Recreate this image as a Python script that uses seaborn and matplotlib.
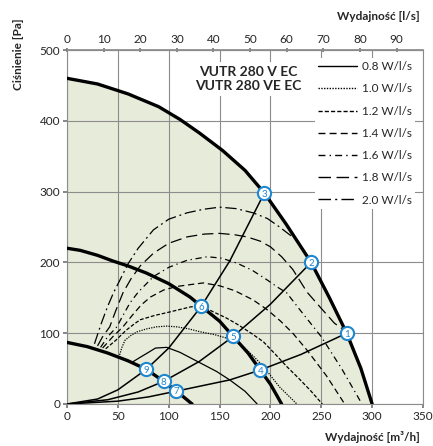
import numpy as np
import pandas as pd
import seaborn as sns
import matplotlib.pyplot as plt
from matplotlib.lines import Line2D

# fan curves (m3/h, Pa)
max_q = [0, 30, 60, 90, 111, 130, 153, 175, 194, 215, 240, 258, 275, 289, 300]
max_p = [460, 452, 438, 420, 402, 383, 358, 330, 298, 255, 200, 150, 100, 50, 0]
mid_q = [0, 13, 30, 45, 60, 78, 100, 121, 132, 150, 163, 178, 190, 200, 211]
mid_p = [220, 217, 210, 202, 195, 185, 170, 151, 138, 117, 96, 72, 48, 28, 0]
low_q = [0, 20, 40, 60, 78, 95, 107, 123]
low_p = [87, 81, 72, 61, 49, 32, 19, 0]

# system curves
sysA_q = [0, 30, 50, 78, 100, 132, 160, 194]
sysA_p = [0, 7, 20, 49, 79, 138, 202, 298]
sysB_q = [0, 40, 70, 95, 130, 163, 200, 240]
sysB_p = [0, 6, 17, 32, 60, 95, 141, 200]
sysC_q = [0, 50, 80, 107, 160, 190, 230, 275]
sysC_p = [0, 4, 10, 18, 34, 48, 70, 100]

# SFP curves
sfp_labels = ["0.8 W/l/s", "1.0 W/l/s", "1.2 W/l/s", "1.4 W/l/s",
              "1.6 W/l/s", "1.8 W/l/s", "2.0 W/l/s"]
sfp08_q = [64, 72, 79, 87, 98, 111, 131, 147, 160, 175, 187]
sfp08_p = [59, 66, 72, 79, 80, 73, 58, 46, 34, 18, 0]
sfp10_q = [51, 54, 57, 63, 69, 78, 88, 98, 108, 120, 131, 145, 157, 166, 173, 183, 193, 209, 226]
sfp10_p = [66, 80, 90, 97, 102, 106, 109, 110, 109, 106, 102, 98, 93, 88, 81, 68, 53, 24, 0]
sfp12_q = [38, 48, 58, 66, 72, 86, 101, 121, 132, 144, 156, 167, 180, 193, 205, 216, 228, 240, 251]
sfp12_p = [78, 90, 104, 113, 119, 125, 130, 137, 139, 130, 122, 113, 101, 88, 70, 53, 36, 18, 0]
sfp14_q = [35, 45, 55, 64, 73, 82, 95, 108, 118, 134, 150, 165, 183, 197, 210, 222, 236, 255, 273]
sfp14_p = [79, 95, 109, 125, 140, 151, 161, 166, 168, 171, 167, 160, 147, 133, 117, 100, 76, 40, 0]
sfp16_q = [33, 40, 49, 55, 62, 70, 85, 100, 118, 138, 152, 167, 182, 197, 207, 216, 229, 250, 270, 290]
sfp16_p = [80, 95, 109, 125, 143, 158, 180, 193, 203, 208, 206, 199, 189, 175, 165, 157, 133, 95, 50, 0]
sfp18_q = [30, 35, 42, 48, 55, 63, 72, 85, 100, 118, 135, 150, 165, 177, 190, 200, 211, 222, 236, 250, 263, 273]
sfp18_p = [82, 95, 109, 132, 157, 177, 195, 213, 227, 236, 240, 241, 239, 236, 230, 222, 208, 190, 158, 135, 114, 104]
sfp20_q = [27, 30, 34, 40, 46, 52, 60, 70, 85, 100, 118, 134, 150, 166, 183, 197, 209, 218, 226, 230]
sfp20_p = [85, 98, 115, 138, 158, 175, 198, 220, 246, 261, 270, 275, 278, 276, 270, 262, 250, 240, 232, 222]

# numbered working points
pt_labels = ["1", "2", "3", "4", "5", "6", "7", "8", "9"]
pt_q = [275, 240, 194, 190, 163, 132, 107, 95, 78]
pt_p = [100, 200, 298, 48, 96, 138, 19, 32, 49]

sns.set_theme(style="white")
plt.rcParams["font.family"] = ["Lato", "DejaVu Sans"]

fig = plt.figure(figsize=(4.33, 4.46), dpi=100)
ax = fig.add_axes([67 / 433, 42 / 446, 356 / 433, 354 / 446])

ax.fill_between(max_q, max_p, 0, color="#e7ebd9", zorder=0, lw=0)

for v in range(0, 351, 50):
    ax.axvline(v, color="#8c8c8c", lw=0.8, zorder=1)
for v in range(0, 501, 100):
    ax.axhline(v, color="#8c8c8c", lw=0.8, zorder=1)

styles = ["-", (0, (1, 1)), (0, (3, 1.5)), (0, (5, 3)),
          (0, (5, 3, 1, 3)), (0, (9, 4)), (0, (9, 3, 1.5, 3))]
sfp_q = [sfp08_q, sfp10_q, sfp12_q, sfp14_q, sfp16_q, sfp18_q, sfp20_q]
sfp_p = [sfp08_p, sfp10_p, sfp12_p, sfp14_p, sfp16_p, sfp18_p, sfp20_p]
for q, p, ls in zip(sfp_q, sfp_p, styles):
    sns.lineplot(x=q, y=p, ax=ax, color="black", lw=0.9, linestyle=ls,
                 sort=False, estimator=None, zorder=3)

for q, p in [(sysA_q, sysA_p), (sysB_q, sysB_p), (sysC_q, sysC_p)]:
    sns.lineplot(x=q, y=p, ax=ax, color="black", lw=1.1, sort=False,
                 estimator=None, zorder=3)

for q, p in [(max_q, max_p), (mid_q, mid_p), (low_q, low_p)]:
    sns.lineplot(x=q, y=p, ax=ax, color="black", lw=2.4, sort=False,
                 estimator=None, zorder=4)

ax.scatter(pt_q, pt_p, s=90, facecolor="white", edgecolor="#1f86d0",
           linewidth=1.5, zorder=5)
for lab, q, p in zip(pt_labels, pt_q, pt_p):
    ax.text(q, p, lab, color="#1f86d0", fontsize=7, ha="center",
            va="center_baseline", zorder=6)

ax.set_xlim(0, 350)
ax.set_ylim(0, 500)
ax.set_xticks(range(0, 351, 50))
ax.set_yticks(range(0, 501, 100))
ax.tick_params(labelsize=8.5, length=3, color="#777777", pad=2,
               direction="out", left=True, bottom=True)
for s in ax.spines.values():
    s.set_color("#8c8c8c")
    s.set_linewidth(0.8)

top = ax.secondary_xaxis("top", functions=(lambda x: x / 3.6, lambda x: x * 3.6))
top.set_xticks(range(0, 91, 10))
top.tick_params(labelsize=8.5, length=3, color="#777777", pad=2, direction="inout")
top.spines["top"].set_color("#8c8c8c")

fig.text(420 / 433, 1 - 437 / 446, "Wydajność [m³/h]", ha="right", va="center",
         fontsize=8.5, fontweight="bold")
fig.text(420 / 433, 1 - 17 / 446, "Wydajność [l/s]", ha="right", va="center",
         fontsize=8.5, fontweight="bold")
fig.text(18 / 433, 1 - 18 / 446, "Ciśnienie [Pa]", ha="center", va="top",
         rotation=90, fontsize=8.5, fontweight="bold")

handles = [Line2D([], [], color="black", lw=1.0, linestyle=ls) for ls in styles]
leg = ax.legend(handles, sfp_labels, loc="upper right", bbox_to_anchor=(0.985, 0.985),
                frameon=True, fontsize=8.5, handlelength=3.3, labelspacing=0.95,
                handletextpad=0.4, borderpad=0.3, borderaxespad=0.2)
leg.get_frame().set_facecolor("white")
leg.get_frame().set_edgecolor("none")
leg.get_frame().set_alpha(1)
leg.set_zorder(7)

ax.text(178, 459, "VUTR 280 V EC\nVUTR 280 VE EC", ha="center", va="center",
        fontsize=10, fontweight="bold", linespacing=1.15, zorder=9,
        bbox=dict(facecolor="white", edgecolor="none", pad=3))

fig.savefig("out.png", dpi=100)
